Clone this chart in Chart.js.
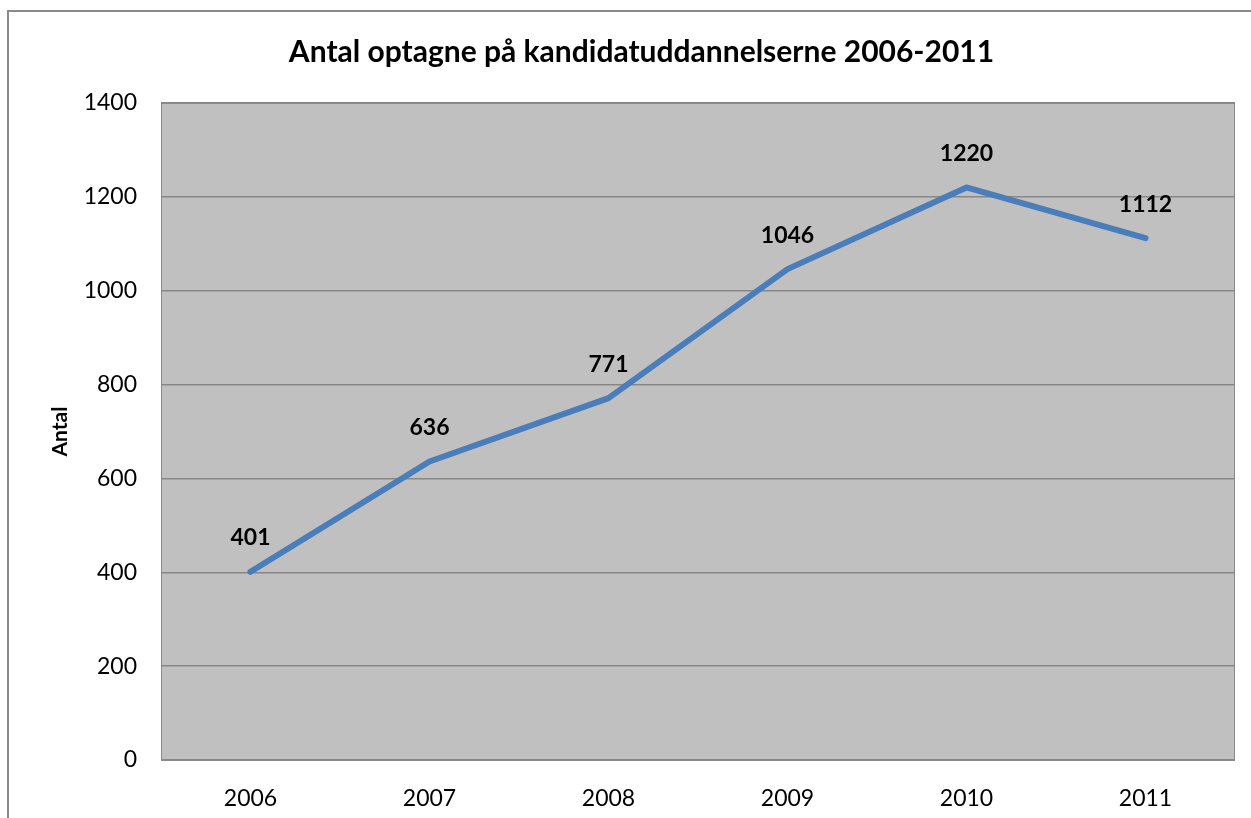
<!DOCTYPE html>
<html lang="da">
<head>
<meta charset="UTF-8">
<title>Antal optagne</title>
<script src="https://cdn.jsdelivr.net/npm/chart.js"></script>
<style>
  html, body { margin: 0; padding: 0; background: #fff; }
  #wrap { width: 1251px; height: 818px; }
</style>
</head>
<body>
<div id="wrap"><canvas id="optagChart" width="1251" height="818"></canvas></div>
<script>
// data
const years = ['2006', '2007', '2008', '2009', '2010', '2011'];
const optagne = [401, 636, 771, 1046, 1220, 1112];

const FONT = 'Lato, "Open Sans", sans-serif';

// ramme om hele diagrammet + grå plotbaggrund
const frame = {
    id: 'frame',
    beforeDraw(chart) {
        const c = chart.ctx, a = chart.chartArea;
        c.save();
        c.fillStyle = '#c0c0c0';
        c.fillRect(a.left, a.top, a.right - a.left, a.bottom - a.top);
        c.restore();
    },
    afterDraw(chart) {
        const c = chart.ctx, a = chart.chartArea;
        c.save();
        c.strokeStyle = '#8a8a8a';
        c.lineWidth = 1;
        c.strokeRect(a.left + 0.5, a.top + 0.5, a.right - a.left - 1, a.bottom - a.top);
        c.lineWidth = 2;
        c.strokeRect(8, 11, 1300, 900);
        c.restore();
    }
};

// værdier over punkterne
const valueLabels = {
    id: 'valueLabels',
    afterDatasetsDraw(chart) {
        const c = chart.ctx;
        const meta = chart.getDatasetMeta(0);
        c.save();
        c.font = 'bold 23px ' + FONT;
        c.fillStyle = '#000';
        c.textAlign = 'center';
        c.textBaseline = 'middle';
        meta.data.forEach((pt, i) => {
            c.fillText(String(optagne[i]), pt.x, pt.y - 34);
        });
        c.restore();
    }
};

new Chart(document.getElementById('optagChart'), {
    type: 'line',
    data: {
        labels: years,
        datasets: [{
            data: optagne,
            borderColor: '#4a7ebb',
            borderWidth: 6,
            borderCapStyle: 'round',
            borderJoinStyle: 'round',
            pointRadius: 0,
            tension: 0
        }]
    },
    options: {
        responsive: false,
        animation: false,
        layout: { padding: { left: 48, right: 16, top: 0, bottom: 0 } },
        plugins: {
            legend: { display: false },
            tooltip: { enabled: false },
            title: {
                display: true,
                text: 'Antal optagne på kandidatuddannelserne 2006-2011',
                color: '#000',
                font: { family: FONT, size: 30, weight: 'bold', lineHeight: 1.2 },
                padding: { top: 34, bottom: 33 }
            }
        },
        scales: {
            x: {
                offset: true,
                grid: { display: false, drawTicks: false },
                border: { display: false },
                ticks: { color: '#000', padding: 25, font: { family: FONT, size: 23 } },
                afterFit(scale) { scale.height = 58; }
            },
            y: {
                min: 0,
                max: 1400,
                ticks: {
                    stepSize: 200,
                    color: '#000',
                    padding: 24,
                    font: { family: FONT, size: 23 },
                    callback: (v) => String(v)
                },
                grid: { color: '#878787', lineWidth: 1.5, drawTicks: false },
                border: { display: false },
                title: {
                    display: true,
                    text: 'Antal',
                    color: '#000',
                    padding: 0,
                    font: { family: FONT, size: 21, weight: 'bold', lineHeight: 1.2 }
                },
                afterFit(scale) { scale.width = 113; }
            }
        }
    },
    plugins: [frame, valueLabels]
});
</script>
</body>
</html>
